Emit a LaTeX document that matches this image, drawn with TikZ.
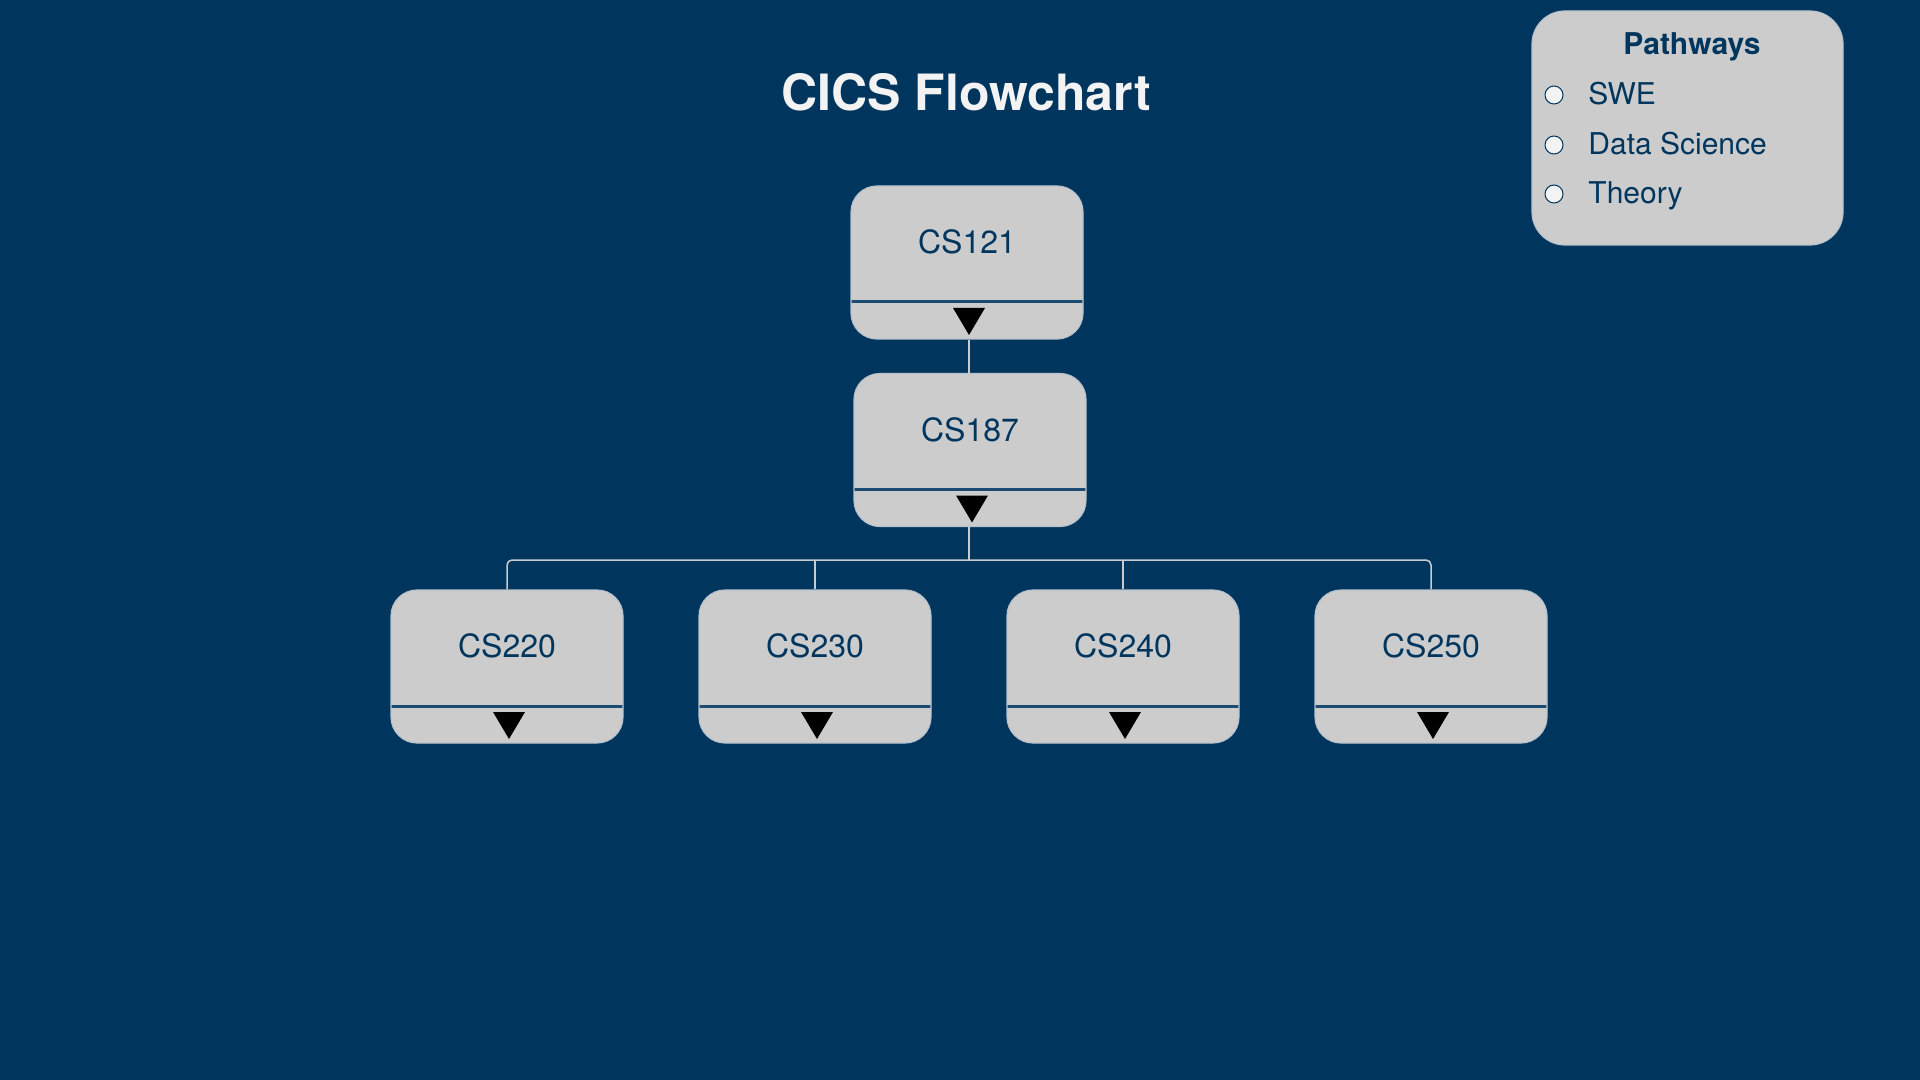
\documentclass[tikz,border=0pt]{standalone}
\usepackage{fontspec}
\setmainfont{TeX Gyre Heros}
\definecolor{navy}{RGB}{0,54,94}
\definecolor{cardgray}{RGB}{204,204,204}
\definecolor{rulenavy}{RGB}{28,74,112}
\definecolor{linkgray}{RGB}{200,204,208}
\definecolor{offwhite}{RGB}{243,243,243}

\begin{document}
\begin{tikzpicture}[x=0.5pt,y=-0.5pt,
  course/.style={draw={rgb,255:red,185;green,195;blue,205},line width=0.6pt,fill=cardgray,
    rounded corners=13pt,minimum width=116pt,minimum height=76.5pt,inner sep=0pt,
    text=navy,font=\fontsize{16pt}{19pt}\selectfont,text height=12pt,text depth=21pt,
    path picture={
      \draw[rulenavy,line width=1.5pt,sharp corners] ([yshift=18.5pt]path picture bounding box.south west)
        -- ([yshift=18.5pt]path picture bounding box.south east);
      \fill[black,sharp corners] ([xshift=-7pt,yshift=15.5pt]path picture bounding box.south)
        -- ([xshift=9pt,yshift=15.5pt]path picture bounding box.south)
        -- ([xshift=1pt,yshift=2pt]path picture bounding box.south) -- cycle;
    }},
  link/.style={linkgray,line width=0.75pt},
  radio/.style={circle,draw=navy,line width=0.5pt,fill=offwhite,minimum size=9pt,inner sep=0pt},
  pathtext/.style={text=navy,inner sep=0pt,font=\fontsize{15pt}{18pt}\selectfont}]

  % Background
  \fill[navy] (0,0) rectangle (1920,1080);
  \useasboundingbox (0,0) rectangle (1920,1080);

  % Title
  \node[anchor=base,inner sep=0pt,text=offwhite,font=\fontsize{25pt}{30pt}\bfseries\selectfont] (title) at (966,111) {CICS Flowchart};

  % Courses
  \node[course] (cs121) at (967,262.5) {CS121};
  \node[course] (cs187) at (970,450) {CS187};
  \node[course] (cs220) at (507,666.5) {CS220};
  \node[course] (cs230) at (815,666.5) {CS230};
  \node[course] (cs240) at (1123,666.5) {CS240};
  \node[course] (cs250) at (1431,666.5) {CS250};

  % Connectors
  \coordinate (bus) at (969,560);
  \draw[link] (cs121.south -| bus) -- (cs187.north -| bus);
  \draw[link] (cs187.south -| bus) -- (bus);
  \draw[link,rounded corners=2.5pt] (cs220.north) |- (cs250.north |- bus) -- (cs250.north);
  \draw[link] (cs230.north) -- (cs230.north |- bus);
  \draw[link] (cs240.north) -- (cs240.north |- bus);

  % Legend
  \node[draw={rgb,255:red,185;green,195;blue,205},line width=0.6pt,fill=cardgray,rounded corners=16.5pt,
    minimum width=155.5pt,minimum height=117pt] (legend) at (1687.5,128) {};
  \node[pathtext,anchor=base,font=\fontsize{15pt}{18pt}\bfseries\selectfont] (pathways) at (1692,55) {Pathways};
  \node[radio] (r1) at (1554,95) {};
  \node[radio] (r2) at (1554,145) {};
  \node[radio] (r3) at (1554,194) {};
  \node[pathtext,anchor=base west] (swe) at (1588,104.5) {SWE};
  \node[pathtext,anchor=base west] (ds) at (1588,155) {Data Science};
  \node[pathtext,anchor=base west] (theory) at (1588,204) {Theory};

\end{tikzpicture}
\end{document}
